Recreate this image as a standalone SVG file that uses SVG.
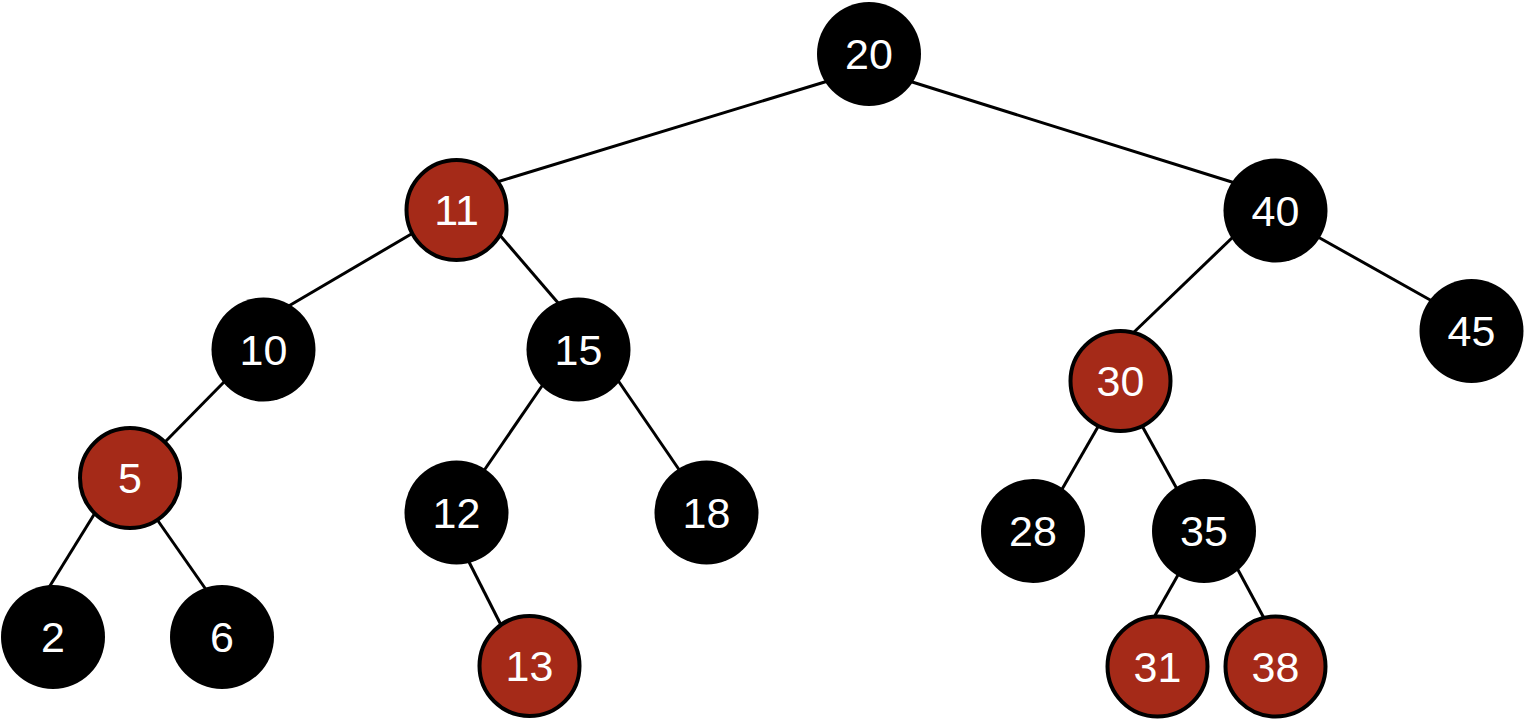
<svg xmlns="http://www.w3.org/2000/svg" width="1525" height="720" viewBox="0 0 1525 720">
<style>
.edge{stroke:#000;stroke-width:3;fill:none;stroke-linecap:butt}
.b{fill:#000}
.r{fill:#a52a18;stroke:#000;stroke-width:4}
.t{fill:#fff;font-family:"Liberation Sans",Arial,sans-serif;font-size:43px;text-anchor:middle}
</style>
<rect width="1525" height="720" fill="#fff"/>
<g id="connectors">
<line class="edge" x1="828" y1="81" x2="497" y2="182"/>
<line class="edge" x1="909" y1="81" x2="1235" y2="183"/>
<line class="edge" x1="413" y1="233" x2="287" y2="307"/>
<line class="edge" x1="498" y1="233" x2="559" y2="304"/>
<line class="edge" x1="225" y1="381" x2="164" y2="443"/>
<line class="edge" x1="95" y1="513" x2="48" y2="589"/>
<line class="edge" x1="156" y1="518" x2="207" y2="591"/>
<line class="edge" x1="544" y1="383" x2="483" y2="472"/>
<line class="edge" x1="617" y1="379" x2="680" y2="471"/>
<line class="edge" x1="468" y1="560" x2="501" y2="625"/>
<line class="edge" x1="1234" y1="236" x2="1131" y2="335"/>
<line class="edge" x1="1318" y1="237" x2="1432" y2="301"/>
<line class="edge" x1="1099" y1="425" x2="1061" y2="491"/>
<line class="edge" x1="1141" y1="424" x2="1177" y2="489"/>
<line class="edge" x1="1178" y1="575" x2="1153" y2="619"/>
<line class="edge" x1="1237" y1="568" x2="1265" y2="620"/>
</g>
<g id="n20"><circle class="b" cx="869" cy="54" r="52"/><text class="t" x="869" y="69">20</text></g>
<g id="n11"><circle class="r" cx="456.5" cy="210" r="50"/><text class="t" x="456.5" y="225">11</text></g>
<g id="n40"><circle class="b" cx="1275.5" cy="210.5" r="52"/><text class="t" x="1275.5" y="225.5">40</text></g>
<g id="n10"><circle class="b" cx="263.5" cy="349.5" r="52"/><text class="t" x="263.5" y="364.5">10</text></g>
<g id="n15"><circle class="b" cx="578.5" cy="349.5" r="52"/><text class="t" x="578.5" y="364.5">15</text></g>
<g id="n30"><circle class="r" cx="1120.5" cy="381" r="50"/><text class="t" x="1120.5" y="396">30</text></g>
<g id="n45"><circle class="b" cx="1471.5" cy="331" r="52"/><text class="t" x="1471.5" y="346">45</text></g>
<g id="n5"><circle class="r" cx="130" cy="478" r="50"/><text class="t" x="130" y="493">5</text></g>
<g id="n12"><circle class="b" cx="456.5" cy="512.5" r="52"/><text class="t" x="456.5" y="527.5">12</text></g>
<g id="n18"><circle class="b" cx="706.5" cy="512.5" r="52"/><text class="t" x="706.5" y="527.5">18</text></g>
<g id="n28"><circle class="b" cx="1033" cy="531" r="52"/><text class="t" x="1033" y="546">28</text></g>
<g id="n35"><circle class="b" cx="1204" cy="531" r="52"/><text class="t" x="1204" y="546">35</text></g>
<g id="n2"><circle class="b" cx="53" cy="637" r="52"/><text class="t" x="53" y="652">2</text></g>
<g id="n6"><circle class="b" cx="222" cy="637" r="52"/><text class="t" x="222" y="652">6</text></g>
<g id="n13"><circle class="r" cx="529.5" cy="666" r="50"/><text class="t" x="529.5" y="681">13</text></g>
<g id="n31"><circle class="r" cx="1157.5" cy="666.5" r="50"/><text class="t" x="1157.5" y="681.5">31</text></g>
<g id="n38"><circle class="r" cx="1275.5" cy="666.5" r="50"/><text class="t" x="1275.5" y="681.5">38</text></g>
</svg>
